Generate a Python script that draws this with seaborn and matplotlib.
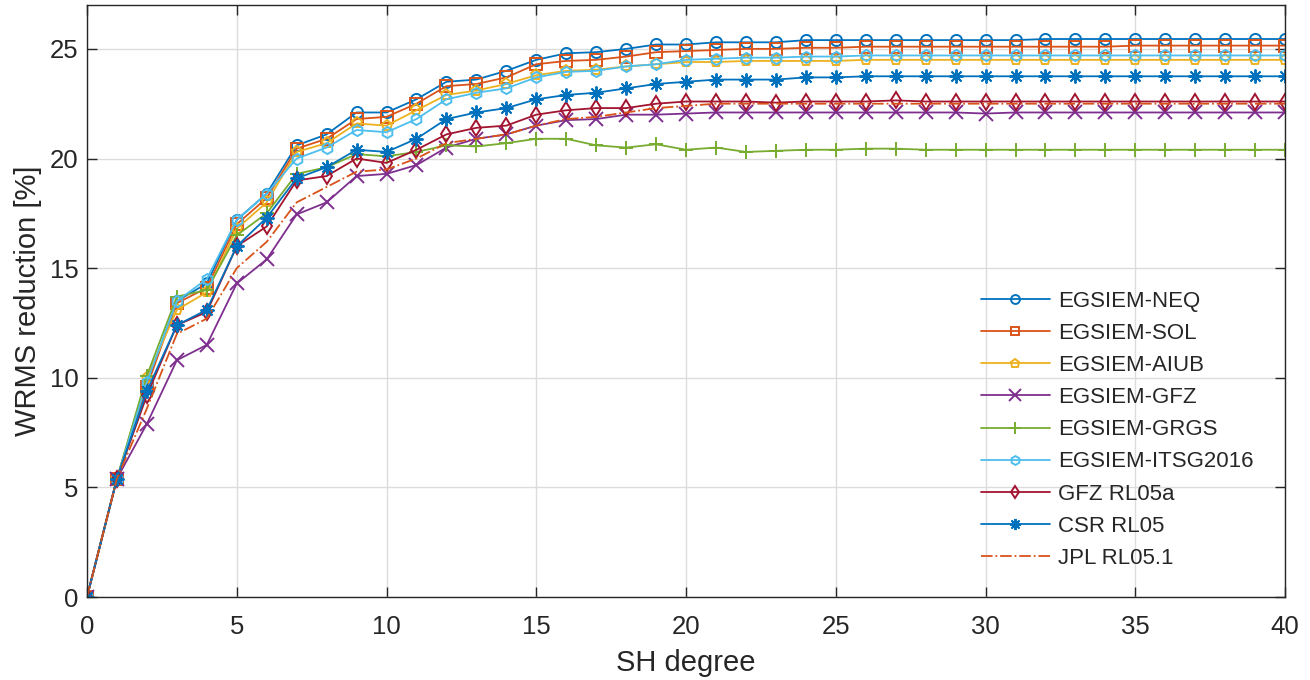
import matplotlib
matplotlib.use("Agg")
import matplotlib.pyplot as plt
import seaborn as sns
import numpy as np

degrees = list(range(0, 41))

neq = [0, 5.4, 9.7, 13.5, 14.3, 17.2, 18.4, 20.6, 21.1, 22.1, 22.1, 22.7, 23.5, 23.6, 24.0, 24.5,
       24.8, 24.85, 25.0, 25.2, 25.2, 25.3, 25.3, 25.3, 25.4, 25.4, 25.4, 25.4, 25.4, 25.4, 25.4,
       25.4, 25.45, 25.45, 25.45, 25.45, 25.45, 25.45, 25.45, 25.45, 25.45]
sol = [0, 5.4, 9.6, 13.4, 14.1, 17.0, 18.2, 20.45, 20.9, 21.8, 21.9, 22.5, 23.3, 23.4, 23.7, 24.3,
       24.45, 24.5, 24.65, 24.85, 24.9, 24.95, 25.0, 25.0, 25.05, 25.05, 25.1, 25.1, 25.1, 25.1, 25.1,
       25.1, 25.1, 25.1, 25.1, 25.15, 25.15, 25.15, 25.15, 25.15, 25.15]
aiub = [0, 5.4, 10.0, 13.1, 13.9, 16.8, 18.0, 20.3, 20.7, 21.6, 21.5, 22.2, 22.9, 23.1, 23.4, 23.8,
        24.0, 24.05, 24.2, 24.3, 24.4, 24.4, 24.45, 24.45, 24.45, 24.45, 24.5, 24.5, 24.5, 24.5, 24.5,
        24.5, 24.5, 24.5, 24.5, 24.5, 24.5, 24.5, 24.5, 24.5, 24.5]
gfz = [0, 5.4, 7.9, 10.8, 11.5, 14.3, 15.4, 17.45, 18.0, 19.2, 19.3, 19.7, 20.5, 20.9, 21.1, 21.5,
       21.75, 21.8, 22.0, 22.0, 22.05, 22.1, 22.1, 22.1, 22.1, 22.1, 22.1, 22.1, 22.1, 22.1, 22.05,
       22.1, 22.1, 22.1, 22.1, 22.1, 22.1, 22.1, 22.1, 22.1, 22.1]
grgs = [0, 5.4, 10.1, 13.7, 14.0, 16.5, 17.5, 19.3, 19.6, 20.2, 20.1, 20.3, 20.6, 20.55, 20.7, 20.9,
        20.9, 20.6, 20.5, 20.65, 20.4, 20.5, 20.3, 20.35, 20.4, 20.4, 20.45, 20.45, 20.4, 20.4, 20.4,
        20.4, 20.4, 20.4, 20.4, 20.4, 20.4, 20.4, 20.4, 20.4, 20.4]
itsg = [0, 5.4, 9.8, 13.5, 14.5, 17.2, 18.4, 20.0, 20.5, 21.3, 21.2, 21.8, 22.7, 23.0, 23.2, 23.7,
        23.95, 24.0, 24.2, 24.3, 24.5, 24.55, 24.6, 24.6, 24.65, 24.65, 24.7, 24.7, 24.7, 24.7, 24.7,
        24.7, 24.7, 24.7, 24.7, 24.7, 24.7, 24.7, 24.7, 24.7, 24.7]
gfz_rl05a = [0, 5.4, 9.2, 12.4, 13.0, 16.0, 16.9, 19.0, 19.2, 20.0, 19.8, 20.4, 21.1, 21.4, 21.5, 22.0,
             22.2, 22.3, 22.3, 22.5, 22.6, 22.6, 22.6, 22.55, 22.6, 22.6, 22.6, 22.65, 22.6, 22.6, 22.6,
             22.6, 22.6, 22.6, 22.6, 22.6, 22.6, 22.6, 22.6, 22.6, 22.6]
csr_rl05 = [0, 5.4, 9.4, 12.4, 13.1, 16.0, 17.3, 19.1, 19.6, 20.4, 20.3, 20.9, 21.8, 22.1, 22.3, 22.7,
            22.9, 23.0, 23.2, 23.4, 23.5, 23.6, 23.6, 23.6, 23.7, 23.7, 23.75, 23.75, 23.75, 23.75, 23.75,
            23.75, 23.75, 23.75, 23.75, 23.75, 23.75, 23.75, 23.75, 23.75, 23.75]
jpl_rl051 = [0, 5.4, 8.6, 12.0, 12.7, 15.0, 16.2, 18.0, 18.7, 19.4, 19.5, 20.0, 20.7, 20.9, 21.1, 21.5,
             21.8, 21.9, 22.1, 22.3, 22.4, 22.5, 22.5, 22.5, 22.5, 22.5, 22.5, 22.5, 22.5, 22.5, 22.5,
             22.5, 22.5, 22.5, 22.5, 22.5, 22.5, 22.5, 22.5, 22.5, 22.5]

labels = ["EGSIEM-NEQ", "EGSIEM-SOL", "EGSIEM-AIUB", "EGSIEM-GFZ", "EGSIEM-GRGS",
          "EGSIEM-ITSG2016", "GFZ RL05a", "CSR RL05", "JPL RL05.1"]
series = [neq, sol, aiub, gfz, grgs, itsg, gfz_rl05a, csr_rl05, jpl_rl051]

colors = ["#0072BD", "#D95319", "#EDB120", "#7E2F8E", "#77AC30",
          "#4DBEEE", "#A2142F", "#0072BD", "#D95319"]
asterisk = (8, 2, 0)
markers = ["o", "s", "p", "x", "+", "h", "d", asterisk, None]
linestyles = ["-", "-", "-", "-", "-", "-", "-", "-", "-."]
line_markers = ("x", "+")

sns.set_theme(style="white")
plt.rcParams['font.family'] = ['Liberation Sans', 'DejaVu Sans']

fig = plt.figure(figsize=(13.1, 6.8), dpi=100)
ax = fig.add_axes([0.0664, 0.122, 0.9146, 0.8706])

for lab, vals, c, m, ls in zip(labels, series, colors, markers, linestyles):
    kw = dict(linewidth=1.3, linestyle=ls, color=c, label=lab)
    if m is not None:
        is_line = (m is asterisk) or (m in line_markers)
        kw.update(marker=m, markersize=10 if is_line else 8,
                  markeredgecolor=c, markeredgewidth=1.4)
        if not is_line:
            kw.update(markerfacecolor="none")
    sns.lineplot(x=degrees, y=vals, ax=ax, **kw)

ax.set_xlim(0, 40)
ax.set_ylim(0, 27)
ax.set_xticks(range(0, 41, 5))
ax.set_yticks(range(0, 26, 5))
ax.grid(True, color="#dcdcdc", linewidth=1.0)
ax.set_axisbelow(True)
for s in ax.spines.values():
    s.set_color("#262626")
    s.set_linewidth(1.0)
ax.tick_params(direction="in", length=7, width=1.0, colors="#262626", labelsize=18.5,
               top=True, right=True, bottom=True, left=True)
ax.tick_params(axis="x", pad=13)
ax.tick_params(axis="y", pad=6)
ax.set_xlabel("SH degree", fontsize=21, color="#262626", labelpad=7)
ax.set_ylabel("WRMS reduction [%]", fontsize=21, color="#262626", labelpad=6)

leg = ax.legend(loc="lower right", bbox_to_anchor=(0.99, 0.014), frameon=False,
                fontsize=16.0, handlelength=3.1, labelspacing=0.5, handletextpad=0.35,
                markerscale=0.8)
for t in leg.get_texts():
    t.set_color("#262626")

fig.savefig("out.png", dpi=100)
